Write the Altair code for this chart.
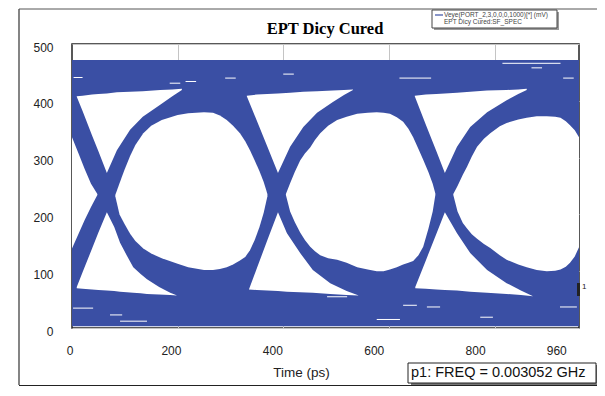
import altair as alt
import pandas as pd

BLUE = "#3a4fa4"

# ---------------- axis ticks ----------------
x_tick_values = [0, 200, 400, 600, 800, 960]
x_tick_labels = ["0", "200", "400", "600", "800", "960"]
x_grid_values = [200, 400, 600, 800]
y_tick_values = [0, 100, 200, 300, 400, 500]

# ---------------- blue trace envelope (ps, mV) ----------------
band_x = [0, 960]
band_lo = [3, 3]
band_hi = [472, 472]

# ---------------- white openings (ps, lower mV, upper mV) ----------------
eye0_x = [0, 12, 24, 36, 48]
eye0_lo = [140, 165, 190, 213, 234]
eye0_hi = [336, 308, 280, 254, 236]

eye1_x = [82, 90, 100, 110, 120, 135, 150, 170, 200, 220, 250, 267, 280, 293, 305, 318, 328, 337, 346, 355, 363, 370]
eye1_lo = [232, 200, 182, 166, 153, 140, 131, 123, 113, 107, 102, 102, 104, 107, 112, 119, 125, 137, 155, 178, 203, 232]
eye1_hi = [234, 255, 280, 303, 322, 343, 356, 366, 375, 378, 380, 379, 374, 366, 356, 343, 329, 313, 295, 276, 257, 236]

eye2_x = [405, 413, 422, 432, 441, 451, 460, 470, 485, 502, 520, 540, 560, 577, 590, 602, 615, 627, 637, 646, 656, 665, 675, 683, 688]
eye2_lo = [234, 205, 186, 168, 155, 143, 135, 128, 123, 120, 115, 107, 103, 100, 100, 103, 107, 112, 115, 118, 128, 143, 175, 205, 234]
eye2_hi = [236, 255, 275, 295, 307, 318, 331, 343, 356, 366, 372, 377, 379, 380, 379, 377, 371, 363, 351, 336, 315, 296, 274, 254, 237]

eye3_x = [722, 730, 740, 748, 757, 767, 780, 792, 810, 823, 845, 861, 880, 899, 915, 925, 935, 943, 952, 960]
eye3_lo = [234, 205, 185, 175, 165, 157, 148, 141, 128, 120, 112, 107, 102, 100, 101, 103, 108, 115, 126, 142]
eye3_hi = [236, 250, 270, 284, 302, 319, 333, 343, 355, 361, 367, 370, 373, 373, 372, 370, 364, 357, 348, 336]

ta1_x = [9, 20, 38, 50, 66, 85, 110, 134, 167, 190, 208]
ta1_lo = [407, 382, 339, 311, 273, 313, 349, 372, 393, 408, 419]
ta1_hi = [408, 409, 411, 412, 413, 415, 416, 417, 419, 420, 421]

ta2_x = [331, 350, 370, 390, 413, 438, 464, 494, 515, 532]
ta2_lo = [408, 365, 319, 273, 319, 354, 379, 398, 410, 419]
ta2_hi = [409, 411, 412, 413, 414, 416, 417, 418, 419, 420]

ta3_x = [649, 670, 690, 706, 729, 754, 786, 823, 845, 861]
ta3_lo = [408, 358, 311, 273, 319, 354, 380, 401, 412, 419]
ta3_hi = [409, 411, 412, 413, 414, 416, 418, 419, 420, 421]

tb1_x = [9, 20, 38, 50, 66, 80, 91, 104, 116, 130, 142, 165, 186, 199]
tb1_lo = [70, 69, 68, 67, 66, 65, 64, 63, 62, 61, 60, 59, 58, 57]
tb1_hi = [72, 98, 140, 168, 204, 178, 150, 127, 107, 95, 86, 72, 62, 57]

tb2_x = [335, 350, 370, 390, 407, 432, 456, 489, 520, 543]
tb2_lo = [68, 67, 66, 65, 64, 63, 62, 60, 58, 57]
tb2_hi = [68, 105, 155, 204, 167, 132, 102, 79, 65, 57]

tb3_x = [650, 670, 690, 706, 729, 754, 786, 823, 850, 873]
tb3_lo = [70, 69, 68, 67, 66, 64, 62, 60, 58, 56]
tb3_hi = [72, 119, 166, 204, 167, 132, 102, 79, 66, 56]

# ---------------- thin gaps between traces in the rails ----------------
gap_x1 = [3, 185, 215, 290, 400, 620, 815, 870, 930, 2, 72, 91, 483, 577, 627, 672, 773, 924]
gap_x2 = [20, 205, 235, 310, 420, 680, 925, 890, 950, 40, 95, 142, 521, 621, 653, 697, 797, 956]
gap_y = [441, 431, 434, 440, 447, 440, 466, 458, 440, 35, 23, 12, 55, 15, 40, 37, 19, 37]

# ---------------- build tables ----------------
band_df = pd.DataFrame({"x": band_x, "lo": band_lo, "hi": band_hi})

regions = {
    "eye0": (eye0_x, eye0_lo, eye0_hi),
    "eye1": (eye1_x, eye1_lo, eye1_hi),
    "eye2": (eye2_x, eye2_lo, eye2_hi),
    "eye3": (eye3_x, eye3_lo, eye3_hi),
    "ta1": (ta1_x, ta1_lo, ta1_hi),
    "ta2": (ta2_x, ta2_lo, ta2_hi),
    "ta3": (ta3_x, ta3_lo, ta3_hi),
    "tb1": (tb1_x, tb1_lo, tb1_hi),
    "tb2": (tb2_x, tb2_lo, tb2_hi),
    "tb3": (tb3_x, tb3_lo, tb3_hi),
}
rows = []
for name, (xs, los, his) in regions.items():
    for xv, lv, hv in zip(xs, los, his):
        rows.append({"region": name, "x": xv, "lo": lv, "hi": hv})
holes_df = pd.DataFrame(rows)

gaps_df = pd.DataFrame({"x": gap_x1, "x2": gap_x2, "y": gap_y})
ticks_df = pd.DataFrame({"v": x_tick_values, "label": x_tick_labels})
one = pd.DataFrame({"k": [0]})

XS = alt.Scale(domain=[0, 960], nice=False, zero=False)
YS = alt.Scale(domain=[0, 500], nice=False, zero=False)

X_AXIS = alt.Axis(
    values=x_grid_values, labels=False, ticks=False, domain=False, grid=True,
    title="Time (ps)", titleX=229, titleY=44, titleBaseline="middle",
    titleFont="Liberation Sans", titleFontSize=13.5, titleFontWeight="normal",
    titleColor="#222")
Y_AXIS = alt.Axis(
    values=y_tick_values, ticks=False, domain=False, grid=True, title=None,
    labelPadding=19, labelFont="Liberation Sans", labelFontSize=12,
    labelColor="#222", labelOffset=3)

band = alt.Chart(band_df).mark_area(color=BLUE, interpolate="linear").encode(
    x=alt.X("x:Q", scale=XS, axis=X_AXIS),
    y=alt.Y("lo:Q", scale=YS, axis=Y_AXIS),
    y2="hi:Q",
)

holes = alt.Chart(holes_df).mark_area(color="white", interpolate="linear").encode(
    x=alt.X("x:Q", scale=XS, axis=X_AXIS),
    y=alt.Y("lo:Q", scale=YS, axis=Y_AXIS),
    y2="hi:Q",
    detail="region:N",
)

gaps = alt.Chart(gaps_df).mark_rule(color="white", strokeWidth=1).encode(
    x=alt.X("x:Q", scale=XS, axis=X_AXIS),
    x2="x2:Q",
    y=alt.Y("y:Q", scale=YS, axis=Y_AXIS),
)

data_layers = alt.layer(band, holes, gaps)

xlabels = alt.Chart(ticks_df).mark_text(
    font="Liberation Sans", fontSize=12, color="#222", baseline="middle", align="center"
).encode(
    x=alt.X("v:Q", scale=alt.Scale(domain=[3.9, 1003.9], nice=False, zero=False), axis=None),
    y=alt.value(307),
    text="label:N",
)

def rect(x1, x2, y1, y2, fill, stroke=None, sw=1):
    kw = dict(fill=fill)
    if stroke:
        kw["stroke"] = stroke
        kw["strokeWidth"] = sw
    return alt.Chart(one).mark_rect(**kw).encode(
        x=alt.value(x1), x2=alt.value(x2), y=alt.value(y1), y2=alt.value(y2))

def label(txt, x, y, size, font="Liberation Sans", color="#222", weight="normal", align="left"):
    return alt.Chart(one).mark_text(text=txt, font=font, fontSize=size, color=color,
                                    fontWeight=weight, align=align, baseline="middle").encode(
        x=alt.value(x), y=alt.value(y))

# chart title
title_t = label("EPT Dicy Cured", 253, -15, 16.5, font="Liberation Serif", color="#000",
                weight="bold", align="center")

# legend box (top right)
legend_shadow = rect(362, 487, -32, -14, "#9a9a9a")
legend_box = rect(360, 485, -34, -16, "white", "#444", 1)
legend_line = alt.Chart(one).mark_rule(color=BLUE, strokeWidth=1.2).encode(
    x=alt.value(363), x2=alt.value(371), y=alt.value(-29))
legend_t1 = label("Veye(PORT_2,3,0,0,0,1000)[*] (mV)", 372, -29, 6.5, color="#444")
legend_t2 = label("EPT Dicy Cured:SF_SPEC", 372, -22, 6.5, color="#444")

# marker annotation
marker_bar = rect(505, 508, 239, 252, "#222")
marker_t = label("1", 510, 243, 8, color="#222")

# frequency box (bottom right)
freq_shadow = rect(339, 527, 321, 341, "#777")
freq_box = rect(336, 524, 319, 339, "white", "#222", 1)
freq_t = label("p1: FREQ = 0.003052  GHz", 339, 329, 14.5, color="#111")

# outer frame lines
frame_left = alt.Chart(one).mark_rule(color="#333", strokeWidth=1.2).encode(
    x=alt.value(-53), y=alt.value(-35), y2=alt.value(341))
frame_top = alt.Chart(one).mark_rule(color="#555", strokeWidth=1).encode(
    x=alt.value(-53), x2=alt.value(540), y=alt.value(-35))
frame_bottom = alt.Chart(one).mark_rule(color="#222", strokeWidth=2).encode(
    x=alt.value(-53), x2=alt.value(540), y=alt.value(342))

chart = alt.layer(
    data_layers, xlabels, title_t,
    frame_left, frame_top, frame_bottom,
    legend_shadow, legend_box, legend_line, legend_t1, legend_t2,
    marker_bar, marker_t,
    freq_shadow, freq_box, freq_t,
).resolve_scale(x="independent").properties(
    width=507,
    height=284,
    autosize=alt.AutoSizeParams(type="none"),
    padding={"left": 64, "top": 36, "right": 18, "bottom": 58},
    background="white",
).configure_view(
    stroke="#222", strokeWidth=1.5
).configure_axis(
    gridColor="#c4c4c4", gridWidth=1
)

chart.save("out.html", embed_options={"renderer": "svg", "actions": False})
